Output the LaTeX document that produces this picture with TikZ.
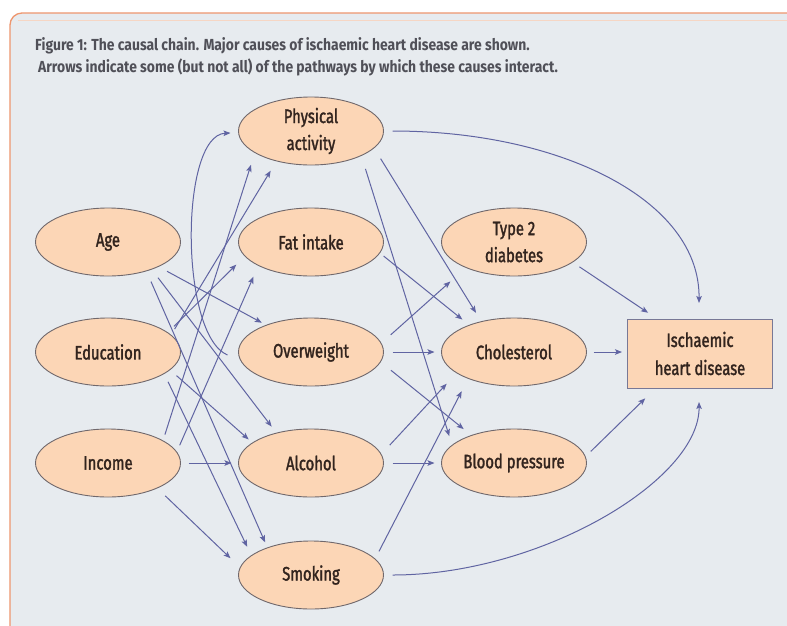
\documentclass[tikz,border=0pt]{standalone}
\usepackage{fontspec}
\setmainfont{Fira Sans}[FakeStretch=0.76]
\newfontfamily\nodefont{Fira Sans}[FakeStretch=0.76,FakeBold=1.6]
\newfontfamily\ttlfont{Fira Sans}[FakeStretch=0.87]
\usetikzlibrary{arrows.meta,calc,shapes.geometric}
\definecolor{bg}{RGB}{231,235,239}
\definecolor{frameor}{RGB}{238,150,110}
\definecolor{framelt}{RGB}{246,214,196}
\definecolor{peach}{RGB}{252,214,182}
\definecolor{ellline}{RGB}{112,104,108}
\definecolor{boxline}{RGB}{120,120,150}
\definecolor{arrc}{RGB}{96,100,162}
\definecolor{txt}{RGB}{50,36,30}
\definecolor{ttl}{RGB}{80,80,88}
\begin{document}
\begin{tikzpicture}[x=1pt,y=-1pt,
  ell/.style={ellipse,draw=ellline,line width=0.9pt,fill=peach,minimum width=145pt,minimum height=68pt,inner sep=0pt,outer sep=0pt,align=center,font=\nodefont\fontsize{19.5}{27}\selectfont,text=txt},
  ihdbox/.style={rectangle,draw=boxline,line width=1pt,fill=peach,minimum width=145pt,minimum height=69pt,inner sep=0pt,outer sep=0pt,align=center,font=\nodefont\fontsize{19.5}{28}\selectfont,text=txt},
  arr/.style={draw=arrc,line width=1pt,-{Stealth[length=7pt,width=5.5pt,inset=1.5pt]}},
  ttlstyle/.style={anchor=base west,inner sep=0pt,font=\ttlfont\fontsize{16}{18}\selectfont\bfseries,text=ttl}
]
\useasboundingbox (0,0) rectangle (787,625);
\fill[white] (0,0) rectangle (787,625);
\fill[bg,rounded corners=12pt] (10,640) -- (10,13) -- (800,13) -- (800,640) -- cycle;
\draw[frameor,line width=1.3pt,rounded corners=12pt] (10,640) -- (10,13) -- (800,13);
\draw[framelt,line width=1pt] (18,20.5) -- (787,20.5);

\node[ttlstyle] (t1) at (35,50) {Figure 1: The causal chain. Major causes of ischaemic heart disease are shown.};
\node[ttlstyle] (t2) at (38,72) {Arrows indicate some (but not all) of the pathways by which these causes interact.};

\node[ell] (age)  at (108,242) {Age};
\node[ell] (edu)  at (108,352) {Education};
\node[ell] (inc)  at (108,463) {Income};
\node[ell] (phys) at (311,131) {Physical\\activity};
\node[ell] (fat)  at (311,242) {Fat intake};
\node[ell] (ovw)  at (311,352) {Overweight};
\node[ell] (alc)  at (311,463) {Alcohol};
\node[ell] (smk)  at (311,575) {Smoking};
\node[ell] (t2d)  at (514,242) {Type 2\\diabetes};
\node[ell] (chol) at (514,352) {Cholesterol};
\node[ell] (bp)   at (514,463) {Blood pressure};
\node[ihdbox] (ihd) at (700,353.5) {Ischaemic\\heart disease};

% left column -> middle column
\draw[arr,shorten <=10pt,shorten >=5.2pt] (age.-26.2) -- (ovw.149.9);
\draw[arr,shorten <=10.7pt,shorten >=8.1pt] (age.-32.4) -- (alc.139.5);
\draw[arr,shorten <=11.7pt,shorten >=6pt] (age.-37.5) -- (smk.148.5);
\draw[arr,shorten <=7.1pt,shorten >=11.4pt] (edu.15.4) -- (phys.-139.9);
\draw[arr,shorten <=9pt,shorten >=12.2pt] (edu.18.5) -- (fat.-168.4);
\draw[arr,shorten <=6.5pt,shorten >=12.9pt] (inc.22.6) -- (phys.-159.1);
\draw[arr,shorten <=7.5pt,shorten >=12.3pt] (inc.9.8) -- (fat.-156.4);
\draw[arr,shorten <=8.9pt,shorten >=5.2pt] (edu.-16.9) -- (alc.161.8);
\draw[arr,shorten <=9.1pt,shorten >=9.8pt] (edu.-21.3) -- (smk.162.3);
\draw[arr,shorten <=8pt,shorten >=7pt] (inc.east) -- (alc.west);
\draw[arr,shorten <=11.3pt,shorten >=13.5pt] (inc.-27) -- (smk.174.6);
\draw[arr] ($(ovw.west)+(-11,3)$) .. controls ($(ovw.west)+(-59,-17)$) and ($(phys.west)+(-59,4)$) .. ($(phys.west)+(-8,2)$);

% middle column -> right column
\draw[arr,shorten <=12.7pt,shorten >=10.3pt] (phys.-15.8) -- (chol.137.9);
\draw[arr,shorten <=14pt,shorten >=9.6pt] (phys.-26.6) -- (bp.164.3);
\draw[arr,shorten <=5.1pt,shorten >=9pt] (fat.-9.3) -- (chol.149.7);
\draw[arr,shorten <=12.8pt,shorten >=21pt] (ovw.7.6) -- (t2d.-152.4);
\draw[arr,shorten <=9pt,shorten >=7pt] (ovw.east) -- (chol.west);
\draw[arr,shorten <=13.4pt,shorten >=10.1pt] (ovw.-8.3) -- (bp.147.1);
\draw[arr,shorten <=12.6pt,shorten >=14.8pt] (alc.7) -- (chol.-160.9);
\draw[arr,shorten <=9pt,shorten >=7pt] (alc.east) -- (bp.west);
\draw[arr,shorten <=8.6pt,shorten >=14.4pt] (smk.14) -- (chol.-150.8);

% to ischaemic heart disease
\draw[arr] ($(phys.east)+(9,0)$) .. controls ($(phys.east)+(177,0)$) and ($(ihd.north)+(0,-119)$) .. ($(ihd.north)+(-1,-16)$);
\draw[arr] ($(smk.east)+(9,0)$) .. controls ($(smk.east)+(157,0)$) and ($(ihd.south)+(0,92)$) .. ($(ihd.south)+(-1,14)$);
\draw[arr,shorten <=8.5pt,shorten >=11.2pt] (t2d.-19.2) -- (ihd.141.4);
\draw[arr,shorten <=7pt,shorten >=5.5pt] (chol.east) -- (chol.east -| ihd.west);
\draw[arr,shorten <=7.7pt,shorten >=14.8pt] (bp.5.9) -- (ihd.-142.6);
\end{tikzpicture}
\end{document}
